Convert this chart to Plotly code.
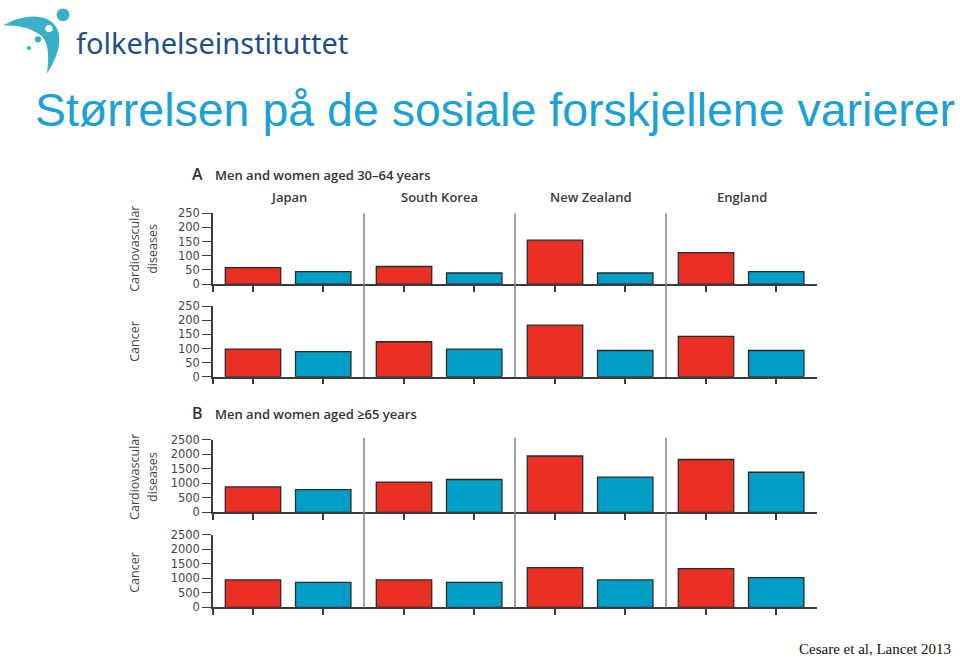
import plotly.graph_objects as go

# ---------------- data ----------------
countries = ["Japan", "South Korea", "New Zealand", "England"]
groups = ["Low", "High"]

a_cvd_red = [58, 62, 155, 111]
a_cvd_blue = [44, 39, 39, 44]
a_can_red = [98, 124, 183, 143]
a_can_blue = [89, 98, 93, 93]

b_cvd_red = [875, 1043, 1939, 1818]
b_cvd_blue = [784, 1131, 1212, 1380]
b_can_red = [946, 946, 1372, 1338]
b_can_blue = [865, 865, 946, 1024]

a_ticks = [0, 50, 100, 150, 200, 250]
b_ticks = [0, 500, 1000, 1500, 2000, 2500]

# ---------------- layout helpers ----------------
W, H = 960, 664
RED = "#EA2F25"
BLUE = "#019FC7"
DARK = "#3b3b3b"
LBL = "#454545"
TITLE_C = "#1BA1D3"
LOGO_C = "#3AAFC8"
LOGO_TXT = "#1F4E8A"


def px(x):
    return x / W


def py(y):
    return 1 - y / H


X0, X1 = 213, 817
xdom = [px(X0), px(X1)]
red_off, blue_off, bw = -0.235, 0.23, 0.367

idx = list(range(len(countries)))
red_x = [i + red_off for i in idx]
blue_x = [i + blue_off for i in idx]

# subplot rows: (top px, bottom px)
rows = [
    (a_cvd_red, a_cvd_blue, 210.7, 283.0, a_ticks),
    (a_can_red, a_can_blue, 305.7, 377.7, a_ticks),
    (b_cvd_red, b_cvd_blue, 442.0, 516.3, b_ticks),
    (b_can_red, b_can_blue, 539.3, 613.3, b_ticks),
]

fig = go.Figure()
layout = {}
for k, (rv, bv, top, bot, ticks) in enumerate(rows, start=1):
    xa = "x" if k == 1 else f"x{k}"
    ya = "y" if k == 1 else f"y{k}"
    fig.add_trace(go.Bar(x=red_x, y=rv, width=bw, name=groups[0], xaxis=xa, yaxis=ya,
                         marker=dict(color=RED, line=dict(color="#2a2a2a", width=1.3)),
                         showlegend=False, customdata=countries,
                         hovertemplate="%{customdata}: %{y}<extra>" + groups[0] + "</extra>"))
    fig.add_trace(go.Bar(x=blue_x, y=bv, width=bw, name=groups[1], xaxis=xa, yaxis=ya,
                         marker=dict(color=BLUE, line=dict(color="#2a2a2a", width=1.3)),
                         showlegend=False, customdata=countries,
                         hovertemplate="%{customdata}: %{y}<extra>" + groups[1] + "</extra>"))
    xkey = "xaxis" if k == 1 else f"xaxis{k}"
    ykey = "yaxis" if k == 1 else f"yaxis{k}"
    layout[xkey] = dict(domain=xdom, range=[-0.5, len(countries) - 0.5], anchor=ya,
                        showgrid=False, zeroline=False, showline=True, linecolor=DARK,
                        linewidth=1.5, ticks="outside", ticklen=6, tickwidth=1.5,
                        tickcolor=DARK, tickvals=[-0.5] + red_x + blue_x,
                        showticklabels=False, fixedrange=True)
    layout[ykey] = dict(domain=[py(bot), py(top)], range=[0, ticks[-1]], anchor=xa,
                        showgrid=False, zeroline=False, showline=True, linecolor=DARK,
                        linewidth=1.5, ticks="outside", ticklen=9, tickwidth=1.3,
                        tickcolor=DARK, tickvals=ticks,
                        tickfont=dict(family="DejaVu Sans", size=11.5, color=LBL),
                        fixedrange=True)

shapes = []
# vertical dividers between countries
for (top, bot) in [(211, 378), (440, 613.5)]:
    for i in idx[:-1]:
        shapes.append(dict(type="line", xref="x", yref="paper", x0=i + 0.5, x1=i + 0.5,
                           y0=py(bot), y1=py(top), line=dict(color="#7d8486", width=1.5)))


def P(x, y):
    return f"{px(x):.5f},{py(y):.5f}"


# logo swoosh
swoosh = ("M " + P(3, 19) + " C " + P(20, 8) + " " + P(48, 4) + " " + P(57, 22) +
          " C " + P(63, 36) + " " + P(56, 54) + " " + P(47, 68) +
          " C " + P(49, 52) + " " + P(49, 38) + " " + P(42, 30) +
          " C " + P(32, 21) + " " + P(16, 18) + " " + P(3, 19) + " Z")
shapes.append(dict(type="path", xref="paper", yref="paper", path=swoosh,
                   fillcolor=LOGO_C, line=dict(width=0)))


def circ(cx, cy, r, fill, line=None):
    return dict(type="circle", xref="paper", yref="paper",
                x0=px(cx - r), x1=px(cx + r), y0=py(cy + r), y1=py(cy - r),
                fillcolor=fill, line=line or dict(width=0))


shapes.append(circ(63, 8, 6.5, LOGO_C))
shapes.append(circ(49, 22, 4.2, "white", dict(color=LOGO_C, width=1)))
shapes.append(circ(38, 33, 3.2, LOGO_C))
shapes.append(circ(29, 42, 2.2, LOGO_C))

ann = []


def text(x, y, s, size, color, family, xanchor="center", yanchor="middle", angle=0, weight=None):
    f = dict(size=size, color=color, family=family)
    if weight:
        f["weight"] = weight
    ann.append(dict(x=px(x), y=py(y), xref="paper", yref="paper", text=s, showarrow=False,
                    xanchor=xanchor, yanchor=yanchor, textangle=angle, font=f))


text(74, 36, "folkehelseinstituttet", 29, LOGO_TXT, "Noto Sans", xanchor="left")
text(33, 105, "Størrelsen på de sosiale forskjellene varierer", 46.5, TITLE_C,
     "Liberation Sans", xanchor="left")

text(190, 171, "A", 16, "#333333", "Open Sans", xanchor="left", weight=600)
text(213, 172, "Men and women aged 30–64 years", 13, "#333333", "Open Sans",
     xanchor="left", weight=600)
text(190, 415, "B", 16, "#333333", "Open Sans", xanchor="left", weight=600)
text(213, 416, "Men and women aged ≥65 years", 13, "#333333", "Open Sans",
     xanchor="left", weight=600)

for i, c in enumerate(countries):
    text(X0 + (i + 0.5) * (X1 - X0) / len(countries), 194, c, 13, "#3a3a3a", "Open Sans",
         weight=600)

for yc in [247, 480]:
    text(135, yc, "Cardiovascular", 12.5, LBL, "Open Sans", angle=-90)
    text(153, yc, "diseases", 12.5, LBL, "Open Sans", angle=-90)
text(135, 342, "Cancer", 12.5, LBL, "Open Sans", angle=-90)
text(135, 578, "Cancer", 12.5, LBL, "Open Sans", angle=-90)

text(953, 656, "Cesare et al, Lancet 2013", 15, "#111111", "Liberation Serif",
     xanchor="right")

fig.update_layout(
    width=W, height=H, margin=dict(l=0, r=0, t=0, b=0),
    paper_bgcolor="white", plot_bgcolor="white",
    showlegend=False, shapes=shapes, annotations=ann,
    barmode="overlay", **layout,
)

fig.write_html("out.html")
